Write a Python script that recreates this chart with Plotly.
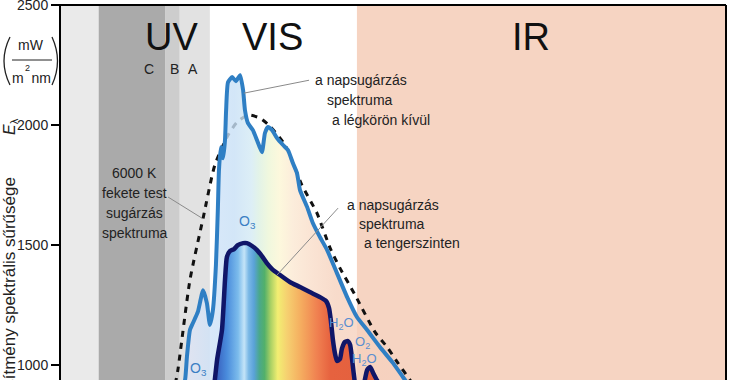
import plotly.graph_objects as go

# ---------------- data (wavelength in nm, irradiance in mW/(m^2 nm)) ----------------
bb_wl = [303, 310, 342, 377, 408, 443, 467, 496, 528, 554, 594, 639, 679, 714, 740, 780, 833, 865, 894, 926, 940]
bb_val = [920, 979, 1354, 1612, 1833, 1958, 2012, 2042, 2029, 1996, 1917, 1750, 1633, 1487, 1404, 1292, 1137, 1075, 1008, 937, 905]

ext_wl = [324, 329, 334, 342, 350, 363, 377, 387, 395, 403, 411, 416, 419, 424, 430, 435,
          438, 443, 454, 464, 475, 483, 488, 496, 509, 520, 533, 541, 549, 560, 573, 589,
          602, 615, 626, 634, 653, 668, 687, 706, 732, 759, 785, 812, 846, 881, 907, 930]
ext_val = [921, 937, 1033, 1146, 1175, 1221, 1312, 1258, 1167, 1229, 1417, 1646, 1812, 1908, 1862, 1937,
           2062, 2179, 2200, 2183, 2208, 2146, 2062, 2008, 1979, 1937, 1887, 1967, 1992, 1979, 1946, 1917,
           1896, 1842, 1800, 1729, 1658, 1592, 1533, 1479, 1383, 1283, 1200, 1146, 1075, 1008, 950, 900]

sea_wl = [405, 408, 414, 427, 435, 440, 448, 459, 469, 483, 493, 507, 520, 533, 546, 560,
          581, 607, 634, 660, 687, 703, 711, 716, 721, 727, 732, 740, 745, 753, 761, 767,
          772, 777, 785, 800, 812, 820, 828, 838, 860]
sea_val = [900, 937, 1021, 1146, 1354, 1450, 1475, 1483, 1500, 1508, 1508, 1496, 1479, 1454, 1425, 1400,
           1375, 1346, 1325, 1304, 1283, 1267, 1237, 1183, 1108, 1046, 1017, 1025, 1067, 1096, 1100, 1083,
           1025, 958, 880, 900, 979, 992, 967, 937, 880]

band_edges = [0, 100, 276, 315, 395, 785, 1764]
band_colors = ["#eaeaea", "#aaaaaa", "#cdcdcd", "#e2e2e2", "#ffffff", "#f6d4c2"]

y_ticks = [1000, 1500, 2000, 2500]

FONT = "Liberation Sans, Arial, sans-serif"
TXT = "#222222"


def scale(stops, lo, hi):
    return [[(w - lo) / (hi - lo), c] for w, c in stops]


ext_stops = [(324, "rgba(226,228,244,0.8)"), (400, "rgba(206,226,248,0.8)"), (460, "rgba(200,224,246,0.8)"),
             (505, "rgba(212,234,244,0.8)"), (525, "rgba(220,240,226,0.8)"), (550, "rgba(236,246,214,0.8)"),
             (580, "rgba(252,246,212,0.8)"), (615, "rgba(251,232,210,0.8)"), (670, "rgba(249,220,200,0.8)"),
             (730, "rgba(246,210,190,0.8)"), (930, "rgba(246,208,190,0.8)")]
sea_stops = [(405, "#3456b8"), (440, "#4a8cdc"), (470, "#7cbcec"), (486, "#c4e4f8"), (498, "#7ab8e6"),
             (512, "#5aa2d8"), (526, "#4aa88c"), (540, "#52b06a"), (556, "#a8d064"), (575, "#f2ee72"),
             (600, "#f6d070"), (635, "#f5ae60"), (680, "#f08050"), (715, "#e6623f"), (860, "#e2603e")]

fig = go.Figure()

for i, c in enumerate(band_colors):
    fig.add_shape(type="rect", xref="x", yref="paper", x0=band_edges[i], x1=band_edges[i + 1],
                  y0=0, y1=1, fillcolor=c, line_width=0, layer="below")

# 6000 K black body (dashed)
fig.add_trace(go.Scatter(x=bb_wl, y=bb_val, mode="lines", line=dict(color="#111111", width=3, dash="6px,6px",
                                                                      shape="spline", smoothing=0.6),
                         hoverinfo="skip"))
# extraterrestrial fill
fig.add_trace(go.Scatter(x=ext_wl, y=ext_val, mode="lines", line=dict(width=0, shape="spline", smoothing=0.5),
                         fill="tozeroy",
                         fillgradient=dict(type="horizontal", colorscale=scale(ext_stops, 324, 930),
                                           start=324, stop=930),
                         hoverinfo="skip"))
# sea-level fill
fig.add_trace(go.Scatter(x=sea_wl, y=sea_val, mode="lines", line=dict(width=0, shape="spline", smoothing=0.5),
                         fill="tozeroy",
                         fillgradient=dict(type="horizontal", colorscale=scale(sea_stops, 405, 860),
                                           start=405, stop=860),
                         hoverinfo="skip"))
# outlines
fig.add_trace(go.Scatter(x=ext_wl, y=ext_val, mode="lines",
                         line=dict(color="#2f7fc4", width=4, shape="spline", smoothing=0.5), hoverinfo="skip"))
fig.add_trace(go.Scatter(x=sea_wl, y=sea_val, mode="lines",
                         line=dict(color="#101668", width=4.5, shape="spline", smoothing=0.5), hoverinfo="skip"))

# leader lines
for (x0, y0, x1, y1) in [(485, 2133, 658, 2187), (735, 1654, 573, 1375), (284, 1700, 374, 1612)]:
    fig.add_shape(type="line", xref="x", yref="y", x0=x0, y0=y0, x1=x1, y1=y1,
                  line=dict(color="#8a8a8a", width=1), layer="above")

# frame (top & right)
fig.add_shape(type="line", xref="paper", yref="paper", x0=-0.004, x1=1, y0=1, y1=1,
              line=dict(color="black", width=2), layer="above")
fig.add_shape(type="line", xref="paper", yref="paper", x0=1, x1=1, y0=0, y1=1,
              line=dict(color="black", width=2), layer="above")


def ann(text, x, y, size, color=TXT, xanchor="center", xref="x", yref="y", angle=0, yanchor="middle"):
    fig.add_annotation(text=text, x=x, y=y, xref=xref, yref=yref, showarrow=False, xanchor=xanchor,
                       yanchor=yanchor, textangle=angle, font=dict(family=FONT, size=size, color=color))


ann("UV", 294, 2367, 38, "#111111")
ann("VIS", 560, 2367, 38, "#111111")
ann("IR", 1247, 2367, 38, "#111111")
ann("C", 233, 2233, 14)
ann("B", 300, 2233, 14)
ann("A", 350, 2233, 14)

ann("a napsugárzás", 668, 2187, 14, xanchor="left")
ann("spektruma", 700, 2104, 14, xanchor="left")
ann("a légkörön kívül", 714, 2021, 14, xanchor="left")

ann("a napsugárzás", 753, 1667, 14, xanchor="left")
ann("spektruma", 785, 1587, 14, xanchor="left")
ann("a tengerszinten", 798, 1508, 14, xanchor="left")

for txt, yy in [("6000 K", 1800), ("fekete test", 1717), ("sugárzás", 1633), ("spektruma", 1550)]:
    ann(txt, 196, yy, 14)

BLUE_T = "#3b7fc4"
ann("O<sub>3</sub>", 496, 1596, 14, BLUE_T)
ann("O<sub>3</sub>", 366, 983, 14, BLUE_T)
ann("H<sub>2</sub>O", 745, 1175, 13, "#5a8ed0")
ann("O<sub>2</sub>", 801, 1092, 13, "#5a8ed0")
ann("H<sub>2</sub>O", 806, 1021, 13, "#5a8ed0")

# y-axis title pieces (outside plot, paper coords)
ann("teljesítmény spektrális sűrűsége", -0.0767, 0.5467, 17, xref="paper", yref="paper", angle=-90,
    yanchor="top")
ann("<i>E</i><sub>λ</sub>", -0.0767, 0.6773, 16, xref="paper", yref="paper", angle=-90)
ann("mW", -0.0451, 0.8920, 14, xref="paper", yref="paper")
ann("m  nm", -0.0444, 0.804, 14, xref="paper", yref="paper")
ann("2", -0.0504, 0.8307, 9, xref="paper", yref="paper")
fig.add_shape(type="line", xref="paper", yref="paper", x0=-0.0737, x1=-0.0135, y0=0.8533, y1=0.8533,
              line=dict(color="#222222", width=1))
fig.add_shape(type="path", xref="paper", yref="paper",
              path="M -0.07669,0.91467 Q -0.09474,0.85067 -0.07669,0.78667",
              line=dict(color="#222222", width=1.3))
fig.add_shape(type="path", xref="paper", yref="paper",
              path="M -0.01353,0.91467 Q 0.00301,0.85067 -0.01353,0.78667",
              line=dict(color="#222222", width=1.3))

fig.update_layout(
    width=736, height=380, margin=dict(l=61, r=10, t=5, b=0, autoexpand=False),
    plot_bgcolor="white", paper_bgcolor="white", showlegend=False,
    xaxis=dict(range=[0, 1764], visible=False, automargin=False),
    yaxis=dict(range=[937.5, 2500.5], tickvals=y_ticks, ticks="outside", ticklen=8, tickwidth=1.5,
               tickcolor="black", showline=True, linewidth=2, linecolor="black", showgrid=False,
               zeroline=False, automargin=False, ticklabeloverflow="allow",
               tickfont=dict(family=FONT, size=14, color=TXT)),
)

fig.write_html("out.html", config={"displayModeBar": False},
               post_script="document.body.style.margin='0';document.body.style.overflow='hidden';")
